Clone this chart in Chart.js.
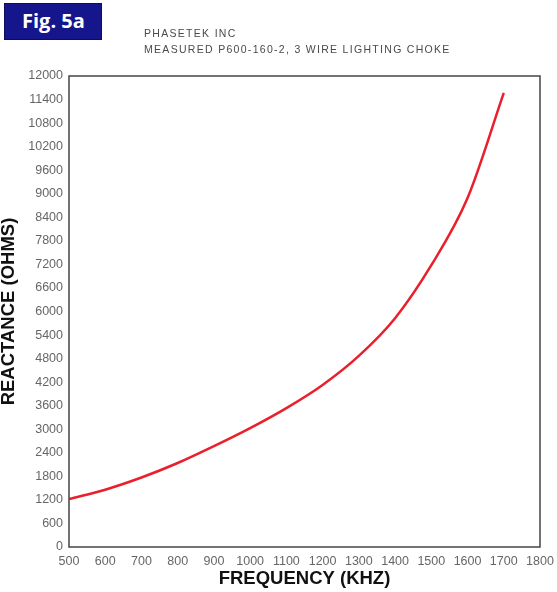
<!DOCTYPE html>
<html>
<head>
<meta charset="utf-8">
<script src="https://cdn.jsdelivr.net/npm/chart.js@4/dist/chart.umd.min.js"></script>
<style>
  html, body { margin: 0; padding: 0; background: #fff; }
  #wrap { position: relative; width: 557px; height: 592px; }
  #chart { position: absolute; left: 0; top: 0; }
  .badge {
    position: absolute; left: 4px; top: 3px; width: 98px; height: 37px;
    background: #15168c; border: 1px solid #0c0d5e; box-sizing: border-box;
    color: #fff; font: 700 20px "Open Sans", sans-serif;
    line-height: 33px; padding-left: 17px;
  }
  .head {
    position: absolute; left: 144px; top: 26px;
    font: 10.5px "Liberation Sans", Arial, sans-serif; color: #4a4a4a;
    line-height: 15.5px; letter-spacing: 1.3px;
  }
</style>
</head>
<body>
<div id="wrap">
  <canvas id="chart" width="557" height="592"></canvas>
  <div class="badge">Fig. 5a</div>
  <div class="head">PHASETEK INC<br>MEASURED P600-160-2, 3 WIRE LIGHTING CHOKE</div>
</div>
<script>
// measured reactance vs frequency
const frequencies = [500, 600, 700, 800, 900, 1000, 1100, 1200, 1300, 1400, 1500, 1600, 1700];
const reactance = [1220, 1460, 1770, 2140, 2570, 3030, 3540, 4130, 4870, 5830, 7180, 8890, 11570];

// Draw the frame round the plot area
const frame = {
  id: "frame",
  afterDraw(chart) {
    const a = chart.chartArea;
    const ctx = chart.ctx;
    ctx.save();
    ctx.strokeStyle = "#444";
    ctx.lineWidth = 1.5;
    ctx.strokeRect(a.left, a.top, a.right - a.left, a.bottom - a.top);
    ctx.restore();
  }
};

const titleFont = { family: "Liberation Sans", size: 18.5, weight: "bold", lineHeight: 1 };

const ctx = document.getElementById("chart").getContext("2d");
new Chart(ctx, {
  type: "line",
  data: {
    datasets: [{
      data: frequencies.map((f, i) => ({ x: f, y: reactance[i] })),
      borderColor: "#ea1f2b",
      borderWidth: 2.5,
      pointRadius: 0,
      cubicInterpolationMode: "monotone",
      fill: false
    }]
  },
  options: {
    responsive: false,
    animation: false,
    layout: { padding: { top: 76, right: 17, left: 0, bottom: 0 } },
    plugins: { legend: { display: false }, tooltip: { enabled: false } },
    scales: {
      x: {
        type: "linear",
        min: 500, max: 1800,
        grid: { display: false, drawTicks: false },
        border: { display: false },
        ticks: {
          stepSize: 100, padding: 7, color: "#666",
          font: { family: "Liberation Sans", size: 12.5 },
          callback: v => String(v)
        },
        title: {
          display: true, text: "FREQUENCY (KHZ)", color: "#111",
          font: titleFont,
          padding: { top: 2, bottom: 3.5 }
        },
        afterFit: s => { s.height = 45; s.paddingLeft = 0; s.paddingRight = 0; }
      },
      y: {
        min: 0, max: 12000,
        grid: { display: false, drawTicks: false },
        border: { display: false },
        ticks: {
          stepSize: 600, padding: 6, color: "#666",
          font: { family: "Liberation Sans", size: 12.5 },
          callback: v => String(v)
        },
        title: {
          display: true, text: "REACTANCE (OHMS)", color: "#111",
          font: titleFont,
          padding: { top: 0, bottom: 2 }
        },
        afterFit: s => { s.width = 69; s.paddingTop = 0; s.paddingBottom = 0; }
      }
    }
  },
  plugins: [frame]
});
</script>
</body>
</html>
